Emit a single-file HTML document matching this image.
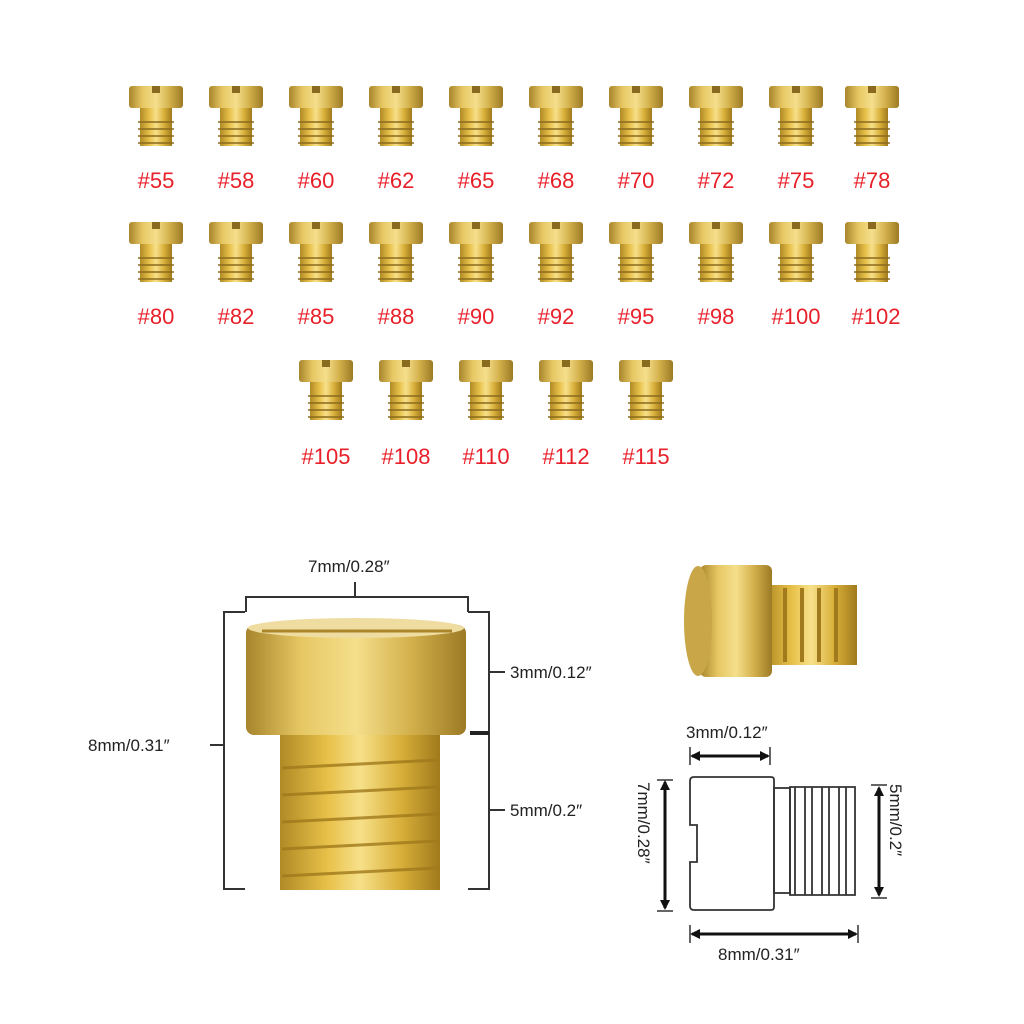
<!DOCTYPE html>
<html><head><meta charset="utf-8"><style>
html,body{margin:0;padding:0;background:#fff}
svg{display:block}
.lbl{font-family:"Liberation Sans",sans-serif;font-size:22px;fill:#e8202a}
.dim{font-family:"Liberation Sans",sans-serif;font-size:17px;fill:#222}
</style></head><body>
<svg width="1024" height="1024" viewBox="0 0 1024 1024" xmlns="http://www.w3.org/2000/svg">
<defs>
<linearGradient id="g" x1="0" x2="1" y1="0" y2="0">
<stop offset="0" stop-color="#a7852c"/><stop offset="0.25" stop-color="#e6c763"/><stop offset="0.5" stop-color="#f5df8c"/><stop offset="0.75" stop-color="#d3b04b"/><stop offset="1" stop-color="#9c7a25"/></linearGradient>
<linearGradient id="g2" x1="0" x2="1" y1="0" y2="0">
<stop offset="0" stop-color="#b08a25"/><stop offset="0.3" stop-color="#e8c14a"/><stop offset="0.5" stop-color="#f7e08a"/><stop offset="0.75" stop-color="#d9b03a"/><stop offset="1" stop-color="#a07a1c"/></linearGradient>
<g id="j">
<rect x="-27" y="0" width="54" height="22" rx="3" fill="url(#g)"/>
<rect x="-4" y="0" width="8" height="7" fill="#8a6a1e"/>
<rect x="-16" y="22" width="32" height="38" fill="url(#g2)"/>
<g stroke="#8a6a1e" stroke-width="1.5"><line x1="-18" y1="36" x2="18" y2="36"/><line x1="-18" y1="43" x2="18" y2="43"/><line x1="-18" y1="50" x2="18" y2="50"/><line x1="-18" y1="57" x2="18" y2="57"/></g>
</g>
</defs>
<g>
<use href="#j" x="156" y="86"/><use href="#j" x="236" y="86"/><use href="#j" x="316" y="86"/><use href="#j" x="396" y="86"/><use href="#j" x="476" y="86"/><use href="#j" x="556" y="86"/><use href="#j" x="636" y="86"/><use href="#j" x="716" y="86"/><use href="#j" x="796" y="86"/><use href="#j" x="872" y="86"/>
<use href="#j" x="156" y="222"/><use href="#j" x="236" y="222"/><use href="#j" x="316" y="222"/><use href="#j" x="396" y="222"/><use href="#j" x="476" y="222"/><use href="#j" x="556" y="222"/><use href="#j" x="636" y="222"/><use href="#j" x="716" y="222"/><use href="#j" x="796" y="222"/><use href="#j" x="872" y="222"/>
<use href="#j" x="326" y="360"/><use href="#j" x="406" y="360"/><use href="#j" x="486" y="360"/><use href="#j" x="566" y="360"/><use href="#j" x="646" y="360"/>
</g>
<g class="lbl" text-anchor="middle">
<text x="156" y="188">#55</text><text x="236" y="188">#58</text><text x="316" y="188">#60</text><text x="396" y="188">#62</text><text x="476" y="188">#65</text><text x="556" y="188">#68</text><text x="636" y="188">#70</text><text x="716" y="188">#72</text><text x="796" y="188">#75</text><text x="872" y="188">#78</text>
<text x="156" y="324">#80</text><text x="236" y="324">#82</text><text x="316" y="324">#85</text><text x="396" y="324">#88</text><text x="476" y="324">#90</text><text x="556" y="324">#92</text><text x="636" y="324">#95</text><text x="716" y="324">#98</text><text x="796" y="324">#100</text><text x="876" y="324">#102</text>
<text x="326" y="464">#105</text><text x="406" y="464">#108</text><text x="486" y="464">#110</text><text x="566" y="464">#112</text><text x="646" y="464">#115</text>
</g>
<!-- big jet -->
<rect x="280" y="735" width="160" height="155" fill="url(#g2)"/>
<g stroke="#a07a1c" stroke-width="3" opacity="0.8"><line x1="282" y1="768" x2="438" y2="760"/><line x1="282" y1="795" x2="438" y2="787"/><line x1="282" y1="822" x2="438" y2="814"/><line x1="282" y1="849" x2="438" y2="841"/><line x1="282" y1="876" x2="438" y2="868"/></g>
<rect x="246" y="625" width="220" height="110" rx="8" fill="url(#g)"/>
<ellipse cx="356" cy="628" rx="108" ry="10" fill="#efdca0"/>
<line x1="262" y1="631" x2="452" y2="631" stroke="#a9852c" stroke-width="3"/>
<g fill="none" stroke="#333" stroke-width="2">
<polyline points="246,612 246,597 468,597 468,612"/><line x1="355" y1="582" x2="355" y2="597"/>
<polyline points="245,612 224,612 224,889 245,889"/><line x1="210" y1="745" x2="224" y2="745"/>
<polyline points="468,612 489,612 489,889 468,889"/><line x1="489" y1="672" x2="505" y2="672"/><line x1="489" y1="810" x2="505" y2="810"/>
</g>
<line x1="470" y1="733" x2="489" y2="733" stroke="#222" stroke-width="4"/>
<text class="dim" x="308" y="572">7mm/0.28″</text>
<text class="dim" x="88" y="751">8mm/0.31″</text>
<text class="dim" x="510" y="678">3mm/0.12″</text>
<text class="dim" x="510" y="816">5mm/0.2″</text>
<!-- small photo jet -->
<rect x="765" y="585" width="92" height="80" fill="url(#g2)"/>
<g stroke="#a07a1c" stroke-width="4"><line x1="785" y1="588" x2="785" y2="662"/><line x1="802" y1="588" x2="802" y2="662"/><line x1="819" y1="588" x2="819" y2="662"/><line x1="836" y1="588" x2="836" y2="662"/></g>
<rect x="700" y="565" width="72" height="112" rx="6" fill="url(#g)"/>
<ellipse cx="698" cy="621" rx="14" ry="55" fill="#c9a748"/>
<!-- line drawing -->
<g fill="none" stroke="#333" stroke-width="1.8">
<path d="M694,777 H771 Q774,777 774,780 V907 Q774,910 771,910 H694 Q690,910 690,906 V862 H697 V825 H690 V781 Q690,777 694,777 Z"/>
<rect x="774" y="788" width="16" height="105"/>
<path d="M790,787 H855 V895 H790 Z"/>
<path d="M795,787 V895 M805,787 V895 M812,787 V895 M822,787 V895 M829,787 V895 M839,787 V895 M846,787 V895"/>
</g>
<g stroke="#111" stroke-width="3"><line x1="692" y1="756" x2="768" y2="756"/><line x1="665" y1="782" x2="665" y2="908"/><line x1="879" y1="788" x2="879" y2="895"/><line x1="692" y1="934" x2="856" y2="934"/></g>
<g stroke="#333" stroke-width="1.5"><line x1="690" y1="747" x2="690" y2="765"/><line x1="770" y1="747" x2="770" y2="765"/><line x1="657" y1="780" x2="673" y2="780"/><line x1="657" y1="911" x2="673" y2="911"/><line x1="871" y1="785" x2="887" y2="785"/><line x1="871" y1="898" x2="887" y2="898"/><line x1="690" y1="925" x2="690" y2="943"/><line x1="858" y1="925" x2="858" y2="943"/></g>
<g fill="#111"><path d="M690,756 l10,-5 v10z"/><path d="M770,756 l-10,-5 v10z"/><path d="M665,780 l-5,10 h10z"/><path d="M665,910 l-5,-10 h10z"/><path d="M879,786 l-5,10 h10z"/><path d="M879,897 l-5,-10 h10z"/><path d="M690,934 l10,-5 v10z"/><path d="M858,934 l-10,-5 v10z"/></g>
<text class="dim" x="686" y="738">3mm/0.12″</text>
<text class="dim" x="0" y="0" transform="translate(638,782) rotate(90)">7mm/0.28″</text>
<text class="dim" x="0" y="0" transform="translate(890,784) rotate(90)">5mm/0.2″</text>
<text class="dim" x="718" y="960">8mm/0.31″</text>
</svg>
</body></html>
